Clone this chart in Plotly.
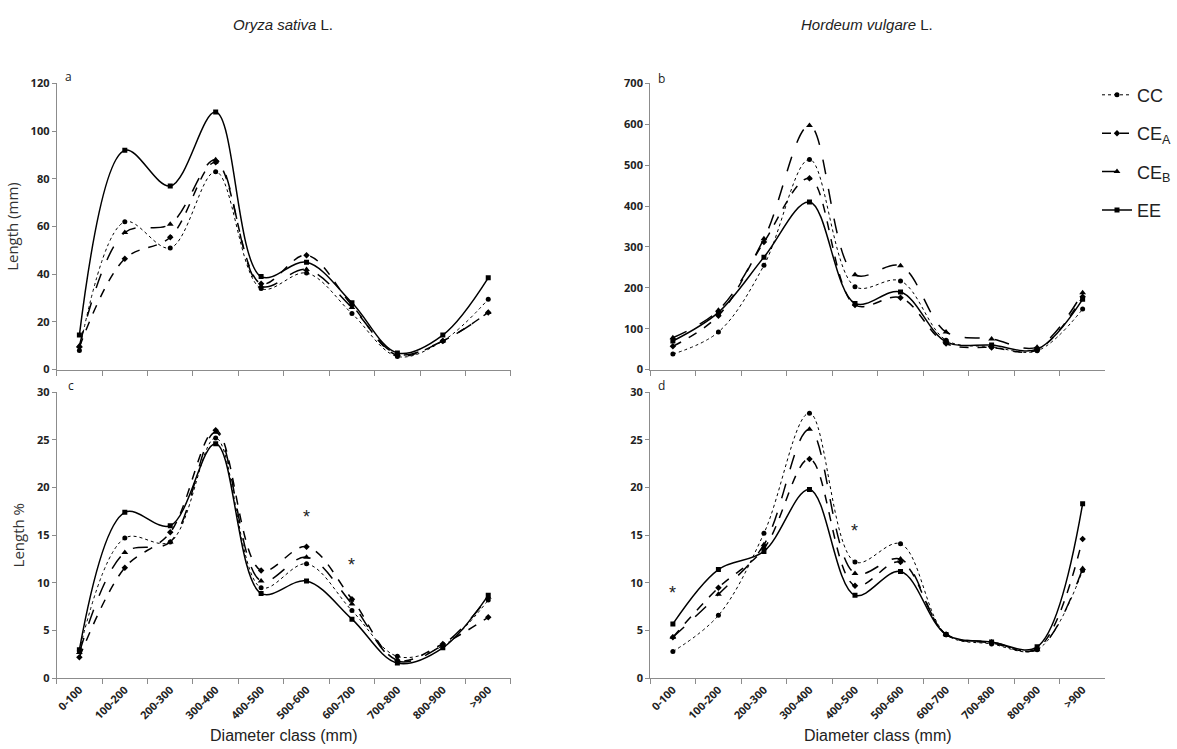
import plotly.graph_objects as go

categories = ["0-100", "100-200", "200-300", "300-400", "400-500",
              "500-600", "600-700", "700-800", "800-900", ">900"]

# Panel a: Oryza sativa, Length (mm)
a_CC  = [8.0, 62.0, 51.0, 83.0, 34.0, 40.5, 23.5, 5.5, 12.0, 29.5]
a_CEA = [9.5, 46.5, 55.5, 87.0, 36.0, 48.0, 27.0, 6.0, 12.0, 24.0]
a_CEB = [10.0, 57.5, 61.0, 88.0, 35.0, 42.0, 26.0, 6.5, 12.0, 24.0]
a_EE  = [14.5, 92.0, 77.0, 108.0, 39.0, 45.0, 28.0, 7.0, 14.5, 38.5]

# Panel b: Hordeum vulgare, Length (mm)
b_CC  = [38, 92, 255, 514, 203, 217, 72, 56, 46, 148]
b_CEA = [57, 132, 312, 468, 158, 176, 64, 54, 48, 178]
b_CEB = [78, 145, 320, 597, 232, 254, 92, 75, 55, 188]
b_EE  = [70, 140, 275, 410, 162, 190, 68, 60, 50, 172]

# Panel c: Oryza sativa, Length %
c_CC  = [2.9, 14.7, 14.3, 25.2, 9.5, 12.0, 7.1, 2.3, 3.4, 8.2]
c_CEA = [2.2, 11.6, 15.3, 26.0, 11.3, 13.8, 8.3, 1.9, 3.6, 6.4]
c_CEB = [2.7, 13.2, 14.3, 25.8, 10.2, 12.7, 7.8, 1.8, 3.5, 8.5]
c_EE  = [3.0, 17.4, 16.0, 24.6, 8.9, 10.2, 6.2, 1.6, 3.2, 8.7]

# Panel d: Hordeum vulgare, Length %
d_CC  = [2.8, 6.6, 15.2, 27.8, 12.2, 14.1, 4.6, 3.6, 3.0, 11.3]
d_CEA = [4.3, 9.5, 13.6, 23.0, 9.7, 12.2, 4.6, 3.7, 3.1, 14.6]
d_CEB = [4.3, 8.8, 14.0, 26.1, 11.0, 12.5, 4.6, 3.8, 3.0, 11.5]
d_EE  = [5.7, 11.4, 13.3, 19.8, 8.7, 11.2, 4.6, 3.8, 3.3, 18.3]

series_names = ["CC", "CE<sub>A</sub>", "CE<sub>B</sub>", "EE"]
styles = [
    dict(dash="dot", width=1.0, symbol="circle", size=5),
    dict(dash="dash", width=1.5, symbol="diamond", size=5),
    dict(dash="longdash", width=1.5, symbol="triangle-up", size=6),
    dict(dash="solid", width=1.5, symbol="square", size=5),
]

panels = [
    ("x", "y", [a_CC, a_CEA, a_CEB, a_EE], False),
    ("x2", "y2", [b_CC, b_CEA, b_CEB, b_EE], True),
    ("x3", "y3", [c_CC, c_CEA, c_CEB, c_EE], False),
    ("x4", "y4", [d_CC, d_CEA, d_CEB, d_EE], False),
]

fig = go.Figure()
for xa, ya, data, show in panels:
    for name, vals, st in zip(series_names, data, styles):
        fig.add_trace(go.Scatter(
            x=categories, y=vals, xaxis=xa, yaxis=ya, name=name,
            mode="lines+markers", legendgroup=name, showlegend=show,
            line=dict(color="black", width=st["width"], dash=st["dash"],
                      shape="spline", smoothing=1.0),
            marker=dict(color="black", symbol=st["symbol"], size=st["size"]),
        ))

W, H = 1177, 749
def px_x(v):
    return v / W
def px_y(v):
    return 1 - v / H

xdom_l = [px_x(55), px_x(512)]
xdom_r = [px_x(652), px_x(1110)]
ydom_t = [px_y(369), px_y(77)]
ydom_b = [px_y(684), px_y(392)]

tickfont = dict(family="Open Sans", size=11, color="#222", weight="bold")
axcol = "#8c8c8c"

def xaxis(dom, anchor, labels):
    return dict(domain=dom, anchor=anchor, type="category",
                categoryorder="array", categoryarray=categories,
                showline=True, linecolor=axcol, linewidth=1,
                ticks="outside", ticklen=5, tickcolor=axcol, tickson="boundaries",
                showticklabels=labels, tickangle=-45, tickfont=tickfont,
                showgrid=False, zeroline=False, range=[-0.5, 9.5])

def yaxis(dom, anchor, rng, dt):
    return dict(domain=dom, anchor=anchor, range=rng, dtick=dt,
                showline=True, linecolor=axcol, linewidth=1,
                ticks="outside", ticklen=4, tickcolor=axcol,
                tickfont=tickfont, showgrid=False, zeroline=False)

fig.update_layout(
    width=W, height=H,
    margin=dict(l=0, r=0, t=0, b=0),
    paper_bgcolor="white", plot_bgcolor="white",
    xaxis=xaxis(xdom_l, "y", False),
    yaxis=yaxis(ydom_t, "x", [0, 120], 20),
    xaxis2=xaxis(xdom_r, "y2", False),
    yaxis2=yaxis(ydom_t, "x2", [0, 700], 100),
    xaxis3=xaxis(xdom_l, "y3", True),
    yaxis3=yaxis(ydom_b, "x3", [0, 30], 5),
    xaxis4=xaxis(xdom_r, "y4", True),
    yaxis4=yaxis(ydom_b, "x4", [0, 30], 5),
    legend=dict(x=px_x(1102), y=px_y(70), xanchor="left", yanchor="top",
                font=dict(family="Liberation Sans", size=18, color="#222"),
                bgcolor="rgba(0,0,0,0)", tracegroupgap=12,
                traceorder="grouped", itemwidth=30),
    showlegend=True,
)

ytitle_font = dict(family="Open Sans", size=15, color="#333")
xtitle_font = dict(family="Liberation Sans", size=16, color="#222")
fig.layout.yaxis.title = dict(text="Length (mm)", standoff=8, font=ytitle_font)
fig.layout.yaxis3.title = dict(text="Length %", standoff=8, font=ytitle_font)
fig.layout.xaxis3.title = dict(text="Diameter class (mm)", font=xtitle_font, standoff=8)
fig.layout.xaxis4.title = dict(text="Diameter class (mm)", font=xtitle_font, standoff=8)

annots = [
    dict(text="<i>Oryza sativa</i> L.", x=px_x(283), y=px_y(17)),
    dict(text="<i>Hordeum vulgare</i> L.", x=px_x(870), y=px_y(17)),
]
for a in annots:
    fig.add_annotation(xref="paper", yref="paper", showarrow=False,
                       xanchor="center", yanchor="middle",
                       font=dict(family="Liberation Sans", size=15, color="#222"), **a)

panel_labels = [("a", 67, 70), ("b", 663, 72), ("c", 69, 385), ("d", 663, 385)]
for t, xx, yy in panel_labels:
    fig.add_annotation(xref="paper", yref="paper", x=px_x(xx), y=px_y(yy),
                       text=t, showarrow=False, xanchor="center", yanchor="middle",
                       font=dict(family="Open Sans", size=12, color="#222"))

stars = [("x3", "y3", "500-600", 16.9), ("x3", "y3", "600-700", 11.9),
         ("x4", "y4", "0-100", 8.9), ("x4", "y4", "400-500", 15.4)]
for xa, ya, xv, yv in stars:
    fig.add_annotation(xref=xa, yref=ya, x=xv, y=yv, text="*", showarrow=False,
                       font=dict(family="Liberation Sans", size=18, color="#222"))

fig.write_html("out.html", config={"displayModeBar": False},
               post_script="document.body.style.margin='0';document.body.style.overflow='hidden';")
